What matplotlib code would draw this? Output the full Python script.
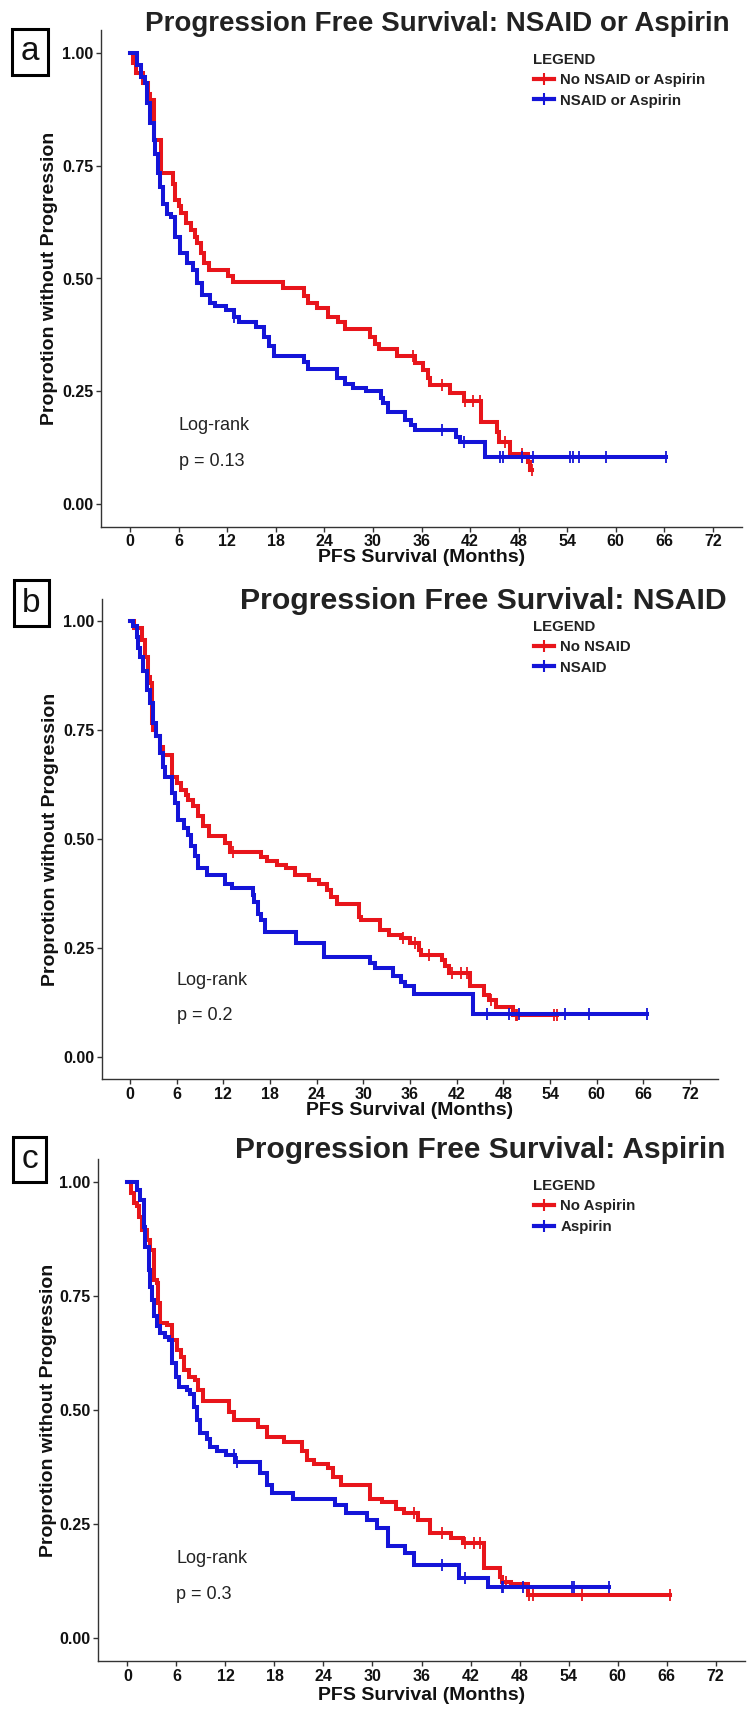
import numpy as np
import matplotlib
matplotlib.use("Agg")
import matplotlib.pyplot as plt
from matplotlib.lines import Line2D
from matplotlib.patches import Rectangle

plt.rcParams['font.family'] = ['Liberation Sans', 'DejaVu Sans']

W, H = 753, 1719
RED = '#e8151b'
BLUE = '#1414d8'

# ---- data: Kaplan-Meier steps (time in months, survival after the drop) ----
# panel a: NSAID or Aspirin
a_red_t = [0, 0.4, 0.7, 1.6, 2.2, 2.5, 2.9, 3.8, 5.3, 5.6, 6.0, 6.3, 6.9, 7.5, 8.0, 8.3, 8.7, 9.1, 9.7,
           12.1, 12.75, 18.9, 21.5, 22.0, 23.1, 24.5, 25.7, 26.5, 29.6, 30.2, 30.8, 33.0, 35.2, 36.2,
           36.8, 37.0, 39.5, 41.2, 43.4, 45.3, 45.6, 46.9, 49.1, 49.4]
a_red_s = [1.0, 0.978, 0.955, 0.933, 0.91, 0.896, 0.807, 0.733, 0.71, 0.674, 0.66, 0.645, 0.622, 0.607,
           0.593, 0.578, 0.556, 0.534, 0.519, 0.506, 0.493, 0.479, 0.462, 0.445, 0.434, 0.415, 0.404,
           0.389, 0.37, 0.355, 0.343, 0.328, 0.312, 0.297, 0.28, 0.264, 0.245, 0.229, 0.182, 0.16,
           0.138, 0.11, 0.092, 0.076]
a_red_cens = [35.0, 38.5, 41.4, 42.4, 43.2, 46.3, 48.4, 49.6]

a_blue_t = [0, 0.8, 1.4, 1.85, 2.05, 2.5, 2.9, 3.1, 3.5, 3.7, 4.1, 4.5, 5.1, 5.6, 6.2, 7.0, 7.8, 8.2,
            8.9, 9.9, 10.5, 11.9, 12.8, 13.4, 15.6, 16.5, 17.2, 17.8, 21.5, 22.0, 25.5, 26.5, 27.5,
            29.2, 31.0, 31.3, 31.8, 33.9, 34.7, 35.2, 40.3, 40.8, 43.8]
a_blue_s = [1.0, 0.973, 0.947, 0.933, 0.89, 0.844, 0.807, 0.777, 0.733, 0.703, 0.666, 0.644, 0.637,
            0.592, 0.556, 0.534, 0.519, 0.49, 0.464, 0.445, 0.438, 0.431, 0.415, 0.404, 0.393, 0.371,
            0.35, 0.328, 0.315, 0.30, 0.28, 0.265, 0.258, 0.25, 0.235, 0.225, 0.205, 0.186, 0.175,
            0.164, 0.149, 0.138, 0.105]
a_blue_cens = [12.8, 38.5, 41.3, 45.7, 46.1, 48.4, 49.8, 54.3, 54.7, 55.5, 58.8, 66.2]

# panel b: NSAID
b_red_t = [0, 0.5, 1.6, 1.9, 2.3, 2.6, 2.8, 3.0, 3.4, 3.9, 4.3, 5.4, 6.0, 6.6, 7.2, 7.5, 8.1, 8.8,
           9.4, 10.1, 12.2, 12.8, 16.9, 17.6, 18.9, 20.0, 21.2, 23.0, 24.3, 25.3, 25.9, 26.6, 29.5,
           29.7, 32.2, 33.3, 34.9, 36.0, 37.2, 37.4, 40.1, 40.5, 41.0, 43.7, 45.5, 46.2, 47.1, 49.3]
b_red_s = [1.0, 0.983, 0.956, 0.918, 0.872, 0.857, 0.765, 0.75, 0.735, 0.71, 0.692, 0.643, 0.628,
           0.613, 0.60, 0.59, 0.575, 0.552, 0.529, 0.506, 0.49, 0.471, 0.459, 0.45, 0.44, 0.433,
           0.417, 0.406, 0.398, 0.383, 0.368, 0.352, 0.322, 0.314, 0.291, 0.28, 0.272, 0.261, 0.246,
           0.235, 0.223, 0.208, 0.193, 0.162, 0.143, 0.131, 0.116, 0.097]
b_red_cens = [13.3, 35.1, 36.7, 38.5, 41.4, 42.6, 43.3, 46.4, 49.6, 49.8, 54.5, 54.9]

b_blue_t = [0, 0.4, 0.86, 1.07, 1.3, 1.7, 2.14, 2.57, 3.0, 3.4, 3.86, 4.3, 4.5, 5.4, 5.8, 6.2, 6.9,
            7.5, 7.9, 8.4, 8.8, 9.85, 12.2, 13.1, 15.8, 16.0, 16.4, 16.8, 17.3, 21.3, 25.0, 30.9,
            31.5, 33.8, 34.9, 35.4, 36.5, 44.1]
b_blue_s = [1.0, 0.987, 0.964, 0.937, 0.918, 0.884, 0.842, 0.811, 0.765, 0.735, 0.696, 0.666, 0.643,
            0.605, 0.582, 0.544, 0.525, 0.51, 0.483, 0.46, 0.433, 0.418, 0.398, 0.387, 0.372, 0.356,
            0.329, 0.314, 0.287, 0.261, 0.23, 0.215, 0.204, 0.185, 0.173, 0.162, 0.145, 0.10]
b_blue_cens = [45.9, 48.7, 50.0, 55.9, 59.0, 66.5]

# panel c: Aspirin
c_red_t = [0, 0.4, 0.8, 1.2, 1.4, 1.8, 2.4, 2.8, 3.2, 3.6, 3.8, 4.0, 4.85, 5.5, 6.1, 6.5, 6.9, 7.5,
           8.3, 8.7, 9.3, 12.4, 13.0, 16.0, 17.1, 19.2, 21.4, 22.0, 22.9, 24.6, 25.2, 26.1, 29.7,
           31.2, 32.9, 33.8, 35.6, 37.0, 39.6, 41.1, 43.7, 45.6, 45.8, 46.9, 49.0]
c_red_s = [1.0, 0.975, 0.953, 0.946, 0.924, 0.895, 0.873, 0.851, 0.785, 0.778, 0.734, 0.69, 0.686,
           0.653, 0.631, 0.617, 0.587, 0.573, 0.566, 0.544, 0.52, 0.496, 0.478, 0.463, 0.441, 0.43,
           0.411, 0.39, 0.381, 0.372, 0.353, 0.335, 0.306, 0.299, 0.284, 0.275, 0.259, 0.23, 0.219,
           0.208, 0.153, 0.135, 0.124, 0.118, 0.094]
c_red_cens = [35.1, 38.5, 41.3, 42.4, 43.2, 46.3, 49.2, 49.7, 55.7, 66.4]

c_blue_t = [0, 1.2, 1.6, 2.0, 2.2, 2.6, 2.8, 3.0, 3.2, 3.6, 4.0, 4.6, 5.05, 5.5, 5.9, 6.3, 7.3, 7.7,
            8.1, 8.5, 8.9, 9.7, 10.1, 11.0, 12.1, 13.2, 16.2, 17.1, 17.7, 20.3, 25.4, 26.7, 29.3,
            30.6, 31.9, 34.0, 35.1, 40.6, 44.1]
c_blue_s = [1.0, 0.982, 0.961, 0.902, 0.858, 0.807, 0.77, 0.741, 0.705, 0.683, 0.668, 0.661, 0.653,
            0.602, 0.573, 0.55, 0.543, 0.536, 0.507, 0.478, 0.449, 0.437, 0.418, 0.41, 0.401, 0.385,
            0.361, 0.335, 0.318, 0.306, 0.291, 0.275, 0.259, 0.241, 0.201, 0.186, 0.161, 0.132, 0.113]
c_blue_cens = [13.1, 13.4, 38.5, 41.3, 45.8, 46.0, 48.4, 54.4, 54.7, 58.9]

titles = ["Progression Free Survival: NSAID or Aspirin",
          "Progression Free Survival: NSAID",
          "Progression Free Survival: Aspirin"]
labels = [["No NSAID or Aspirin", "NSAID or Aspirin"],
          ["No NSAID", "NSAID"],
          ["No Aspirin", "Aspirin"]]
pvals = ["p = 0.13", "p = 0.2", "p = 0.3"]
letters = ["a", "b", "c"]
xticks = list(range(0, 73, 6))
yticks = [0.0, 0.25, 0.5, 0.75, 1.0]

series = [[(a_red_t, a_red_s, a_red_cens), (a_blue_t, a_blue_s, a_blue_cens)],
          [(b_red_t, b_red_s, b_red_cens), (b_blue_t, b_blue_s, b_blue_cens)],
          [(c_red_t, c_red_s, c_red_cens), (c_blue_t, c_blue_s, c_blue_cens)]]

# pixel layout (left, top, right, bottom) of each plotting panel
boxes = [(101, 30.5, 742, 526.5), (102, 599, 718, 1079), (98, 1159, 745, 1661)]
title_pos = [(437, 24, 20.0), (483, 601, 21.8), (480, 1150, 21.5)]
letter_box = [(12, 29, 48, 75), (14, 580, 49, 626), (13, 1137, 46, 1182)]
legend_pos = [(533, 60), (533, 627), (533, 1186)]   # "LEGEND" left, centre y
xlab_y = [558, 1110, 1695]
ylab_x = [50, 51, 49]


def fx(px):
    return px / W


def fy(py):
    return 1 - py / H


fig = plt.figure(figsize=(W / 100, H / 100), dpi=100)

for i in range(3):
    l, t, r, b = boxes[i]
    ax = fig.add_axes([fx(l), fy(b), (r - l) / W, (b - t) / H])
    for (tt, ss, cens), col in zip(series[i], [RED, BLUE]):
        tt = np.array(tt)
        ss = np.array(ss)
        t_end = max(tt[-1], max(cens))
        ax.step(np.append(tt, t_end), np.append(ss, ss[-1]), where='post',
                color=col, lw=2.9, solid_joinstyle='miter')
        idx = np.searchsorted(tt, cens, side='right') - 1
        ax.plot(cens, ss[idx], ls='none', marker='|', color=col, ms=8, mew=1.3)
    ax.set_xlim(-3.6, 75.6)
    ax.set_ylim(-0.05, 1.05)
    ax.set_xticks(xticks)
    ax.set_yticks(yticks)
    ax.set_yticklabels(["0.00", "0.25", "0.50", "0.75", "1.00"])
    for sp in ['top', 'right']:
        ax.spines[sp].set_visible(False)
    for sp in ['left', 'bottom']:
        ax.spines[sp].set_color('#333333')
        ax.spines[sp].set_linewidth(1.0)
    ax.tick_params(direction='out', length=3.5, width=1, color='#333333',
                   labelsize=11.5, pad=2, labelcolor='#111111')
    for lbl in ax.get_xticklabels() + ax.get_yticklabels():
        lbl.set_fontweight('bold')

    ax.text(6.0, 0.175, "Log-rank", fontsize=13, color='#222222', va='center', ha='left')
    ax.text(6.0, 0.095, pvals[i], fontsize=13, color='#222222', va='center', ha='left')

    # legend: title as its own text, entries below
    lx, ly = legend_pos[i]
    fig.text(fx(lx), fy(ly), "LEGEND", fontsize=10.8, fontweight='bold', color='#222222',
             ha='left', va='center')
    handles = [Line2D([0], [0], color=RED, lw=3, marker='|', ms=9, mew=1.5),
               Line2D([0], [0], color=BLUE, lw=3, marker='|', ms=9, mew=1.5)]
    leg = ax.legend(handles, labels[i], loc='upper left',
                    bbox_to_anchor=(fx(lx + 1), fy(ly + 13)), bbox_transform=fig.transFigure,
                    frameon=False, handlelength=1.3, handletextpad=0.45, labelspacing=0.45,
                    borderaxespad=0, borderpad=0,
                    prop={'weight': 'bold', 'size': 10.8})
    for txt in leg.get_texts():
        txt.set_color('#222222')

    tx, ty, ts = title_pos[i]
    fig.text(fx(tx), fy(ty), titles[i], fontsize=ts, fontweight='bold', color='#222222',
             ha='center', va='center')
    fig.text(fx((l + r) / 2), fy(xlab_y[i]), "PFS Survival (Months)", fontsize=14,
             fontweight='bold', color='#111111', ha='center', va='center')
    fig.text(fx(ylab_x[i]), fy((t + b) / 2), "Proprotion without Progression", fontsize=14,
             fontweight='bold', color='#111111', ha='center', va='center', rotation=90)

    x0, y0, x1, y1 = letter_box[i]
    fig.patches.append(Rectangle((fx(x0), fy(y1)), (x1 - x0) / W, (y1 - y0) / H,
                                 transform=fig.transFigure, fill=False, lw=2.2,
                                 edgecolor='black'))
    fig.text(fx((x0 + x1) / 2), fy((y0 + y1) / 2), letters[i], fontsize=24,
             ha='center', va='center', color='#111111')

fig.savefig("out.png", dpi=100)
